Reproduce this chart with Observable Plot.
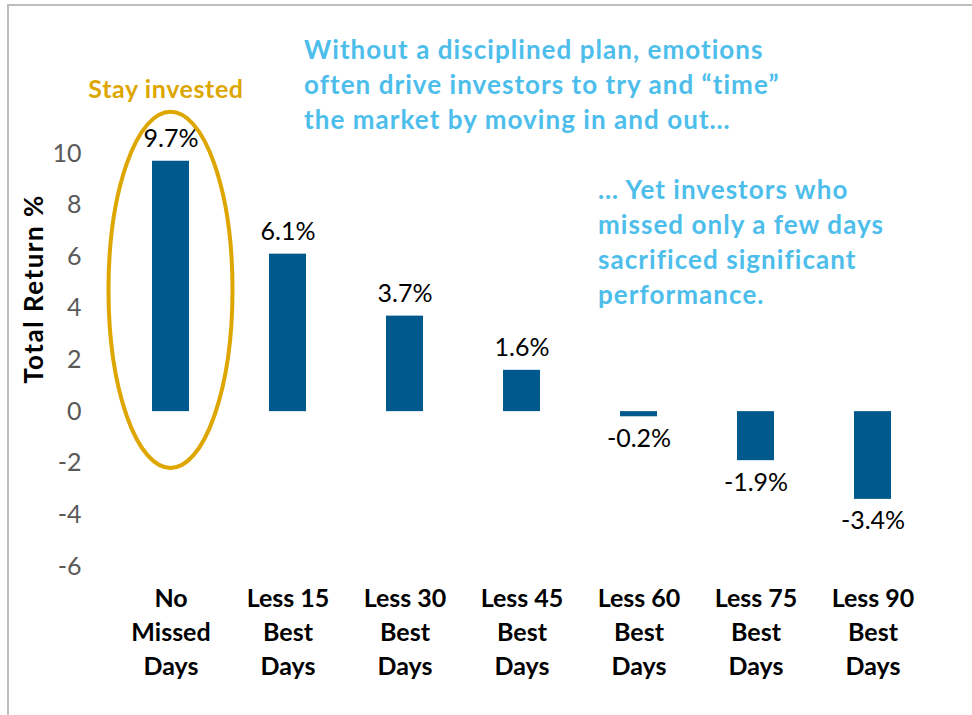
<!DOCTYPE html>
<html>
<head>
<meta charset="utf-8">
<script src="https://cdn.jsdelivr.net/npm/d3@7"></script>
<script src="https://cdn.jsdelivr.net/npm/@observablehq/plot@0.6"></script>
<style>
  html, body { margin: 0; padding: 0; background: #fff; }
  #wrap { position: relative; width: 972px; height: 715px; overflow: hidden; font-family: Lato, "Open Sans", sans-serif; }
  #frame { position: absolute; left: 7px; top: 4px; width: 1000px; height: 800px; border-left: 2px solid #BDBDBD; border-top: 2px solid #BDBDBD; }
  .note { position: absolute; font-weight: 700; font-size: 26px; letter-spacing: 1.05px; line-height: 35px; color: #4DBEEB; white-space: nowrap; }
  #stay { position: absolute; font-weight: 700; font-size: 25px; letter-spacing: 0.6px; color: #DDA600; white-space: nowrap; transform: translate(-50%, -50%); }
  #ytitle { position: absolute; font-weight: 700; font-size: 26px; letter-spacing: 1.5px; color: #000; white-space: nowrap; transform: translate(-50%, -50%) rotate(-90deg); }
  #chart { position: absolute; left: 0; top: 0; }
</style>
</head>
<body>
<div id="wrap">
  <div id="frame"></div>
  <div id="chart"></div>
  <div class="note" id="note1" style="left:304px; top:32px;">Without a disciplined plan, emotions<br>often drive investors to try and “time”<br>the market by moving in and out…</div>
  <div class="note" id="note2" style="left:598px; top:172px;">… Yet investors who<br>missed only a few days<br>sacrificed significant<br>performance.</div>
  <div id="stay" style="left:166px; top:88px;">Stay invested</div>
  <div id="ytitle" style="left:33px; top:289px;"></div>
</div>
<script>
// ---- data ----
const categories = [
  "No\nMissed\nDays",
  "Less 15\nBest\nDays",
  "Less 30\nBest\nDays",
  "Less 45\nBest\nDays",
  "Less 60\nBest\nDays",
  "Less 75\nBest\nDays",
  "Less 90\nBest\nDays"
];
const returns = [9.7, 6.1, 3.7, 1.6, -0.2, -1.9, -3.4];
const valueLabels = ["9.7%", "6.1%", "3.7%", "1.6%", "-0.2%", "-1.9%", "-3.4%"];
const yTicks = [-6, -4, -2, 0, 2, 4, 6, 8, 10];
const yAxisTitle = "Total Return %";

document.getElementById("ytitle").textContent = yAxisTitle;

const data = categories.map((c, i) => ({cat: c, value: returns[i], label: valueLabels[i]}));

const chart = Plot.plot({
  width: 972,
  height: 715,
  marginTop: 153,
  marginBottom: 149,
  marginLeft: 111.5,
  marginRight: 41.5,
  style: {fontFamily: "Lato, 'Open Sans', sans-serif", background: "transparent", overflow: "visible"},
  x: {domain: categories, paddingInner: 0.684, paddingOuter: 0.342, label: null},
  y: {domain: [-6, 10], label: null},
  marks: [
    Plot.barY(data, {x: "cat", y: "value", fill: "#00598C"}),
    Plot.text(data.filter(d => d.value >= 0), {x: "cat", y: "value", text: "label", dy: -22, fontSize: 25, fill: "#000", lineAnchor: "middle"}),
    Plot.text(data.filter(d => d.value < 0), {x: "cat", y: "value", text: "label", dy: 22, fontSize: 25, fill: "#000", lineAnchor: "middle"}),
    Plot.axisY({ticks: yTicks, tickFormat: d => String(d), tickSize: 0, tickPadding: 30.5, fontSize: 25, color: "#595959", label: null}),
    Plot.axisX({tickSize: 0, tickPadding: 16, fontSize: 25, fontWeight: "bold", color: "#000", lineHeight: 1.36, label: null})
  ]
});

document.getElementById("chart").appendChild(chart);

// ellipse annotation around the first bar, placed with the plot's scales
const xs = chart.scale("x"), ys = chart.scale("y");
const step = xs.step !== undefined ? xs.step : xs.bandwidth / (1 - 0.684);
const cx = xs.apply(categories[0]) + xs.bandwidth / 2;
const yTop = 11.6, yBottom = -2.2;
const cy = (ys.apply(yTop) + ys.apply(yBottom)) / 2;
const ry = (ys.apply(yBottom) - ys.apply(yTop)) / 2;
const rx = step * 0.53;
d3.select(chart).append("ellipse")
  .attr("cx", cx).attr("cy", cy).attr("rx", rx).attr("ry", ry)
  .attr("fill", "none").attr("stroke", "#DDA600").attr("stroke-width", 4);
</script>
</body>
</html>
